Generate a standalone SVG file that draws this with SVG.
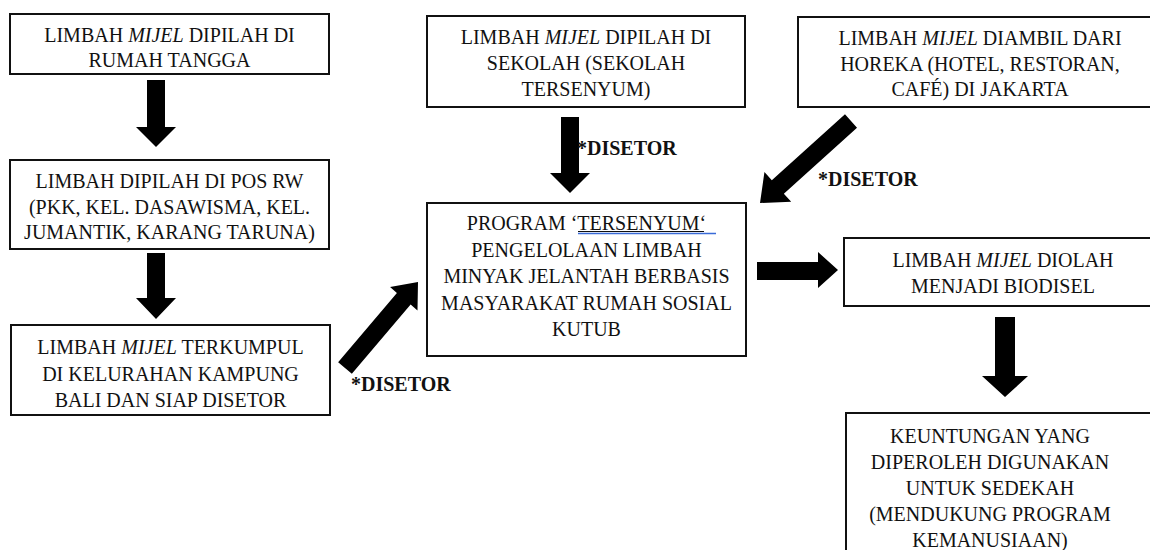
<svg xmlns="http://www.w3.org/2000/svg" width="1150" height="550" viewBox="0 0 1150 550">
<style>
.box{fill:#fff;stroke:#111;stroke-width:2}
.t{font-size:20px;fill:#111;text-anchor:middle}
.i{font-style:italic}
.lbl{font-size:20px;font-weight:bold;fill:#111}
.arr{fill:#000}
</style>
<rect width="1150" height="550" fill="#fff"/>
<g id="connectors" font-family="'Liberation Serif', 'Times New Roman', 'DejaVu Serif', serif">
<polygon class="arr" points="147,80 165,80 165,127 176,127 156,147 136,127 147,127"/>
<polygon class="arr" points="147,253 165,253 165,298 176,298 156,319 136,298 147,298"/>
<polygon class="arr" points="561,117 579,117 579,173 590,173 570,193 550,173 561,173"/>
<polygon class="arr" points="995,317 1015,317 1015,376 1028,376 1005,397 982,376 995,376"/>
<polygon class="arr" points="757,262 818,262 818,252 838,270 818,288 818,280 757,280"/>
<polygon class="arr" points="844.98,114.31 771.81,180.25 764.45,172.08 760,203 791.21,201.80 783.85,193.63 857.02,127.69"/>
<polygon class="arr" points="351.86,373.82 410.63,304.58 417.49,310.41 418,282 390.05,287.11 396.91,292.94 338.14,362.18"/>
<text class="lbl" x="577" y="155">*DISETOR</text>
<text class="lbl" x="818" y="186">*DISETOR</text>
<text class="lbl" x="351" y="391">*DISETOR</text>
</g>
<g font-family="'Liberation Serif', 'Times New Roman', 'DejaVu Serif', serif">
<g id="n1">
<rect class="box" x="10" y="14" width="319" height="60"/>
<text class="t" x="169.5" y="42">LIMBAH <tspan class="i">MIJEL</tspan> DIPILAH DI</text>
<text class="t" x="169.5" y="67">RUMAH TANGGA</text>
</g>
<g id="n2">
<rect class="box" x="10" y="160" width="319" height="89"/>
<text class="t" x="169.5" y="188">LIMBAH DIPILAH DI POS RW</text>
<text class="t" x="169.5" y="214">(PKK, KEL. DASAWISMA, KEL.</text>
<text class="t" x="169.5" y="239">JUMANTIK, KARANG TARUNA)</text>
</g>
<g id="n3">
<rect class="box" x="11" y="325" width="319" height="90"/>
<text class="t" x="170.5" y="354">LIMBAH <tspan class="i">MIJEL</tspan> TERKUMPUL</text>
<text class="t" x="170.5" y="381">DI KELURAHAN KAMPUNG</text>
<text class="t" x="170.5" y="407">BALI DAN SIAP DISETOR</text>
</g>
<g id="n4">
<rect class="box" x="427" y="16" width="318" height="91"/>
<text class="t" x="586" y="44">LIMBAH <tspan class="i">MIJEL</tspan> DIPILAH DI</text>
<text class="t" x="586" y="70">SEKOLAH (SEKOLAH</text>
<text class="t" x="586" y="96">TERSENYUM)</text>
</g>
<g id="n5">
<rect class="box" x="798" y="17" width="370" height="90"/>
<text class="t" x="980" y="45">LIMBAH <tspan class="i">MIJEL</tspan> DIAMBIL DARI</text>
<text class="t" x="980" y="71">HOREKA (HOTEL, RESTORAN,</text>
<text class="t" x="980" y="96">CAFÉ) DI JAKARTA</text>
</g>
<g id="n6">
<rect class="box" x="427" y="203" width="319" height="153"/>
<text class="t" x="586.5" y="230">PROGRAM ‘TERSENYUM‘ </text>
<line x1="578" y1="231.5" x2="704" y2="231.5" stroke="#111" stroke-width="1"/>
<line x1="578" y1="233.5" x2="716" y2="233.5" stroke="#3a6bd8" stroke-width="1.3"/>
<text class="t" x="586.5" y="256.5">PENGELOLAAN LIMBAH</text>
<text class="t" x="586.5" y="283">MINYAK JELANTAH BERBASIS</text>
<text class="t" x="586.5" y="309.5">MASYARAKAT RUMAH SOSIAL</text>
<text class="t" x="586.5" y="336">KUTUB</text>
</g>
<g id="n7">
<rect class="box" x="844" y="238" width="330" height="68"/>
<text class="t" x="1003" y="267">LIMBAH <tspan class="i">MIJEL</tspan> DIOLAH</text>
<text class="t" x="1003" y="293">MENJADI BIODISEL</text>
</g>
<g id="n8">
<rect class="box" x="846" y="413" width="330" height="160"/>
<text class="t" x="990" y="443">KEUNTUNGAN YANG</text>
<text class="t" x="990" y="469">DIPEROLEH DIGUNAKAN</text>
<text class="t" x="990" y="495">UNTUK SEDEKAH</text>
<text class="t" x="990" y="521">(MENDUKUNG PROGRAM</text>
<text class="t" x="990" y="547">KEMANUSIAAN)</text>
</g>
</g>
</svg>
